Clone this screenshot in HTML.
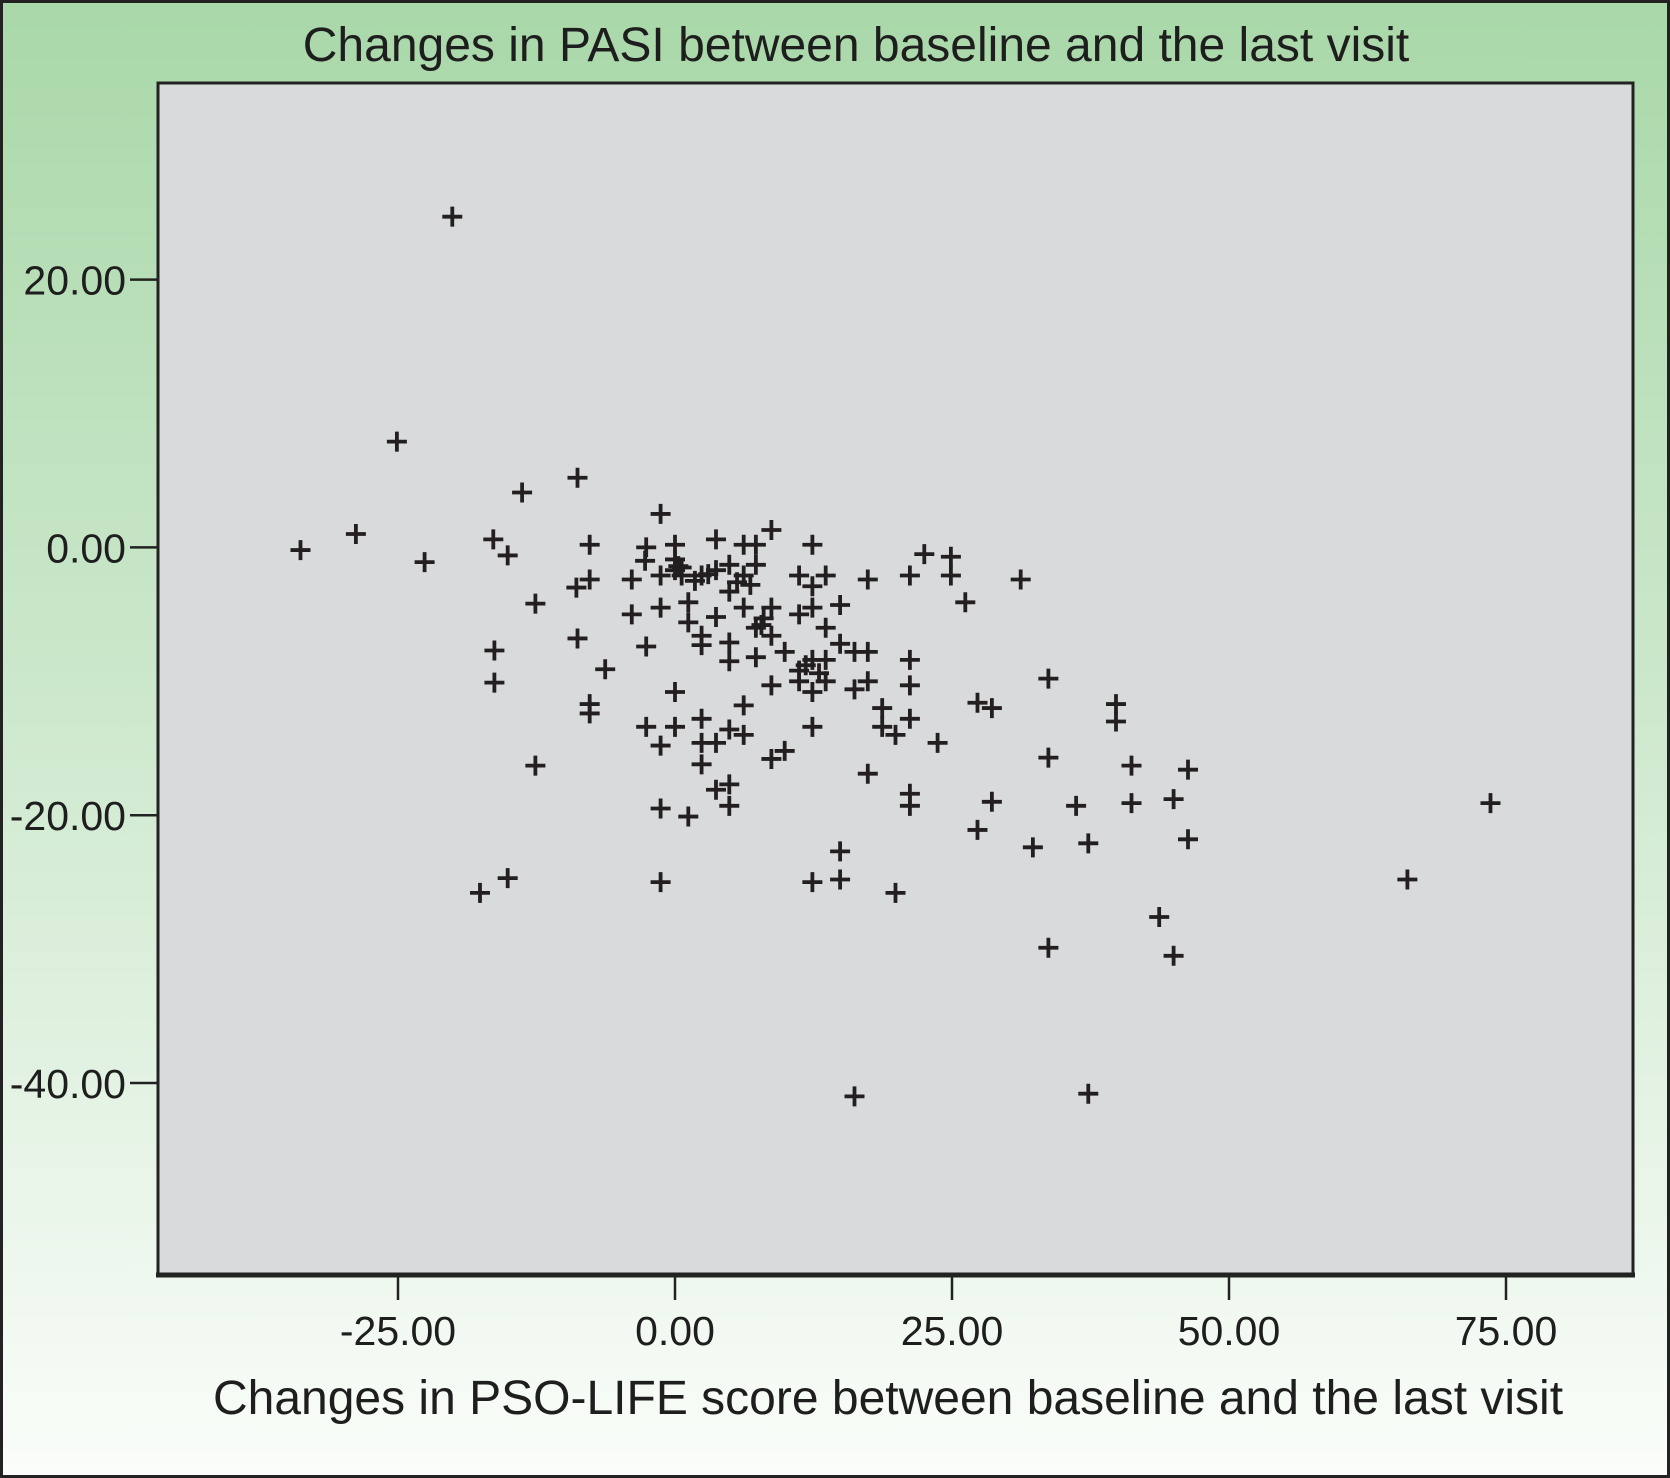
<!DOCTYPE html>
<html><head><meta charset="utf-8"><style>
html,body{margin:0;padding:0;}
body{width:1670px;height:1478px;overflow:hidden;}
svg{display:block;font-family:"Liberation Sans",sans-serif;}
</style></head><body>
<svg id="chart" width="1670" height="1478" viewBox="0 0 1670 1478">
<defs><linearGradient id="bg" x1="0" y1="0" x2="0" y2="1">
<stop offset="0" stop-color="#a9d8a9"/><stop offset="0.5" stop-color="#cfe9cf"/><stop offset="1" stop-color="#fafdfa"/></linearGradient></defs>
<rect x="1.5" y="1.5" width="1667" height="1475" fill="url(#bg)" stroke="#222" stroke-width="3"/>
<text x="856" y="61" font-size="48" text-anchor="middle" fill="#1e1e1e">Changes in PASI between baseline and the last visit</text>
<rect x="158" y="83" width="1475" height="1192" fill="#d9dadc" stroke="#222" stroke-width="3"/>
<line x1="156" y1="1275" x2="1635" y2="1275" stroke="#222" stroke-width="5"/>
<g id="axes"></g>
<g id="points"></g>
<text x="888" y="1414" font-size="48" text-anchor="middle" fill="#1e1e1e">Changes in PSO-LIFE score between baseline and the last visit</text>
</svg>
<script>
const xTicks=[-25,0,25,50,75];
const yTicks=[20,0,-20,-40];
const xVals=[-20.1,-25.1,-33.8,-28.8,-22.6,-13.8,-16.4,-15.1,-12.6,-16.3,-16.3,-12.6,-17.6,-15.1,-8.8,-7.7,-7.7,-8.9,-8.8,-6.3,-7.7,-7.7,-1.3,-2.6,-2.7,-3.9,-1.3,-3.9,-1.3,-2.6,0,0,0,0.6,1.2,1.2,0,0,-2.6,-1.3,-1.3,1.2,-1.3,2.4,2.4,2.4,3.7,3.7,3.7,2.4,2.4,2.4,3.7,4.9,4.9,4.9,4.9,4.9,3.7,4.9,4.9,6.2,6.2,6.2,6.2,6.2,7.3,7.3,7.3,7.3,8.7,8.7,8.7,8.7,8.7,9.9,9.9,11.2,11.2,11.2,11.2,12.4,12.4,12.4,12.4,12.4,12.4,12.4,13.6,13.6,13.6,13.6,14.9,14.9,14.9,14.9,16.2,16.2,16.2,17.4,17.4,17.4,17.4,18.7,18.7,19.9,19.9,21.2,21.2,21.2,21.2,21.2,21.2,22.5,23.7,24.9,24.9,26.2,27.3,27.3,28.6,28.6,31.2,32.3,33.7,33.7,33.7,36.2,37.3,37.3,39.8,39.8,41.2,41.2,43.7,45.0,45.0,46.3,46.3,66.1,73.6,0.6,1.8,6.8,7.8,0.3,5.6,8.0,11.8,13.0,3.0];
const yVals=[24.7,7.9,-0.2,1.0,-1.1,4.1,0.6,-0.6,-4.2,-7.7,-10.1,-16.3,-25.8,-24.7,5.2,0.2,-2.4,-3.0,-6.8,-9.1,-11.7,-12.4,2.5,0,-1.0,-2.4,-2.1,-5.0,-4.5,-7.4,0.2,-0.9,-1.7,-2.1,-4.1,-5.6,-10.8,-13.4,-13.4,-14.8,-19.5,-20.1,-25.0,-2.1,-6.6,-7.3,0.6,-1.7,-5.2,-12.8,-14.6,-16.2,-14.6,-1.3,-3.3,-7.1,-8.5,-13.6,-18.1,-17.7,-19.3,0.2,-2.1,-4.5,-11.8,-14.0,0.2,-1.3,-6.0,-8.2,1.3,-4.5,-6.6,-10.3,-15.8,-15.2,-7.8,-5.0,-2.1,-9.2,-10.0,0.2,-2.9,-4.5,-8.4,-10.8,-13.4,-25.0,-2.1,-6.0,-8.4,-10.0,-4.3,-7.2,-22.7,-24.8,-7.8,-10.6,-41.0,-2.4,-7.8,-10.0,-16.9,-12.0,-13.4,-14.0,-25.8,-2.1,-8.4,-10.3,-12.8,-18.4,-19.3,-0.5,-14.6,-0.7,-2.1,-4.1,-11.6,-21.1,-12.0,-19.0,-2.4,-22.4,-9.8,-15.7,-29.9,-19.3,-22.1,-40.8,-11.7,-13.0,-16.3,-19.1,-27.6,-18.8,-30.5,-16.6,-21.8,-24.8,-19.1,-1.5,-2.5,-2.8,-5.8,-1.4,-2.6,-5.3,-8.8,-9.4,-2.0];
const xS=v=>675+v*11.08;
const yS=v=>547.4-v*13.39;
const NS="http://www.w3.org/2000/svg";
const ax=document.getElementById('axes');
xTicks.forEach(t=>{
  const l=document.createElementNS(NS,'line');
  l.setAttribute('x1',xS(t));l.setAttribute('x2',xS(t));l.setAttribute('y1',1275);l.setAttribute('y2',1300);
  l.setAttribute('stroke','#222');l.setAttribute('stroke-width','2.5');
  
  
  ax.appendChild(l);
  const tx=document.createElementNS(NS,'text');
  tx.setAttribute('x',xS(t));tx.setAttribute('y',1345);tx.setAttribute('font-size','41');tx.setAttribute('text-anchor','middle');tx.setAttribute('fill','#1e1e1e');
  tx.textContent=t.toFixed(2);
  
  
  ax.appendChild(tx);
});
yTicks.forEach(t=>{
  const l=document.createElementNS(NS,'line');
  l.setAttribute('x1',130);l.setAttribute('x2',158);l.setAttribute('y1',yS(t));l.setAttribute('y2',yS(t));
  l.setAttribute('stroke','#222');l.setAttribute('stroke-width','2.5');
  
  
  ax.appendChild(l);
  const tx=document.createElementNS(NS,'text');
  tx.setAttribute('x',126);tx.setAttribute('y',yS(t)+15);tx.setAttribute('font-size','41');tx.setAttribute('text-anchor','end');tx.setAttribute('fill','#1e1e1e');
  tx.textContent=t.toFixed(2);
  
  
  ax.appendChild(tx);
});
const pg=document.getElementById('points');
xVals.forEach((xv,i)=>{
  const cx=xS(xv),cy=yS(yVals[i]);
  const p=document.createElementNS(NS,'path');
  p.setAttribute('d',`M${cx-10},${cy}H${cx+10}M${cx},${cy-10}V${cy+10}`);
  p.setAttribute('stroke','#231f20');p.setAttribute('stroke-width','3.8');p.setAttribute('fill','none');
  
  
  pg.appendChild(p);
});
</script>
</body></html>
